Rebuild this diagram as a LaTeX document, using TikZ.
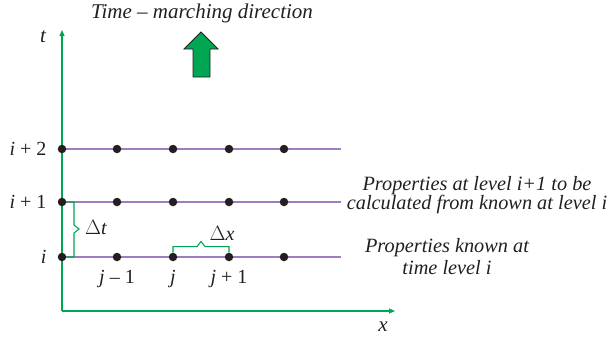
\documentclass[tikz,border=0pt]{standalone}
\usepackage{fontspec}
\setmainfont{Liberation Serif}
\usepackage{tikz}
\usetikzlibrary{arrows.meta,positioning}
\definecolor{axisgreen}{HTML}{00A651}
\definecolor{gridline}{HTML}{A07CC0}
\definecolor{ink}{HTML}{231F20}

\begin{document}
\begin{tikzpicture}[
  x=1pt,y=-1pt,
  font=\fontsize{20}{20}\selectfont,
  axis/.style={draw=axisgreen,line width=1.1pt,-{Triangle[length=6pt,width=5pt]}},
  level/.style={draw=gridline,line width=1.3pt},
  dot/.style={circle,fill=ink,inner sep=0pt,minimum size=8.5pt},
  brace/.style={draw=axisgreen,line width=1.1pt},
  lbl/.style={inner sep=1pt,text=ink},
  note/.style={inner sep=0pt,text=ink,font=\fontsize{20.3}{19}\selectfont\itshape,align=center},
]
\useasboundingbox (0,0) rectangle (613,341);

% axes
\coordinate (orig) at (62,311);
\coordinate (tend) at (62,30);
\coordinate (xend) at (395,311);
\draw[axis] (orig) -- (tend);
\draw[axis] (orig) -- (xend);
\node[lbl,font=\fontsize{21}{21}\selectfont\itshape] (tlab) at (43,37) {t};
\node[lbl,font=\fontsize{21}{21}\selectfont\itshape] (xlab) at (383,327) {x};

% time levels and grid points
\foreach \r/\y in {0/257,1/202,2/149}{
  \draw[level] (62,\y) -- (341,\y);
  \foreach \c/\x in {0/62,1/117,2/173,3/229,4/284}{
    \node[dot] (p\r\c) at (\x,\y) {};
  }
}

\node[lbl,left=10pt of p00] (li0) {\textit{i}};
\node[lbl,left=10pt of p10] (li1) {\textit{i} + 1};
\node[lbl,left=10pt of p20] (li2) {\textit{i} + 2};

\node[lbl] (lj0) at (117,279) {\textit{j} – 1};
\node[lbl] (lj1) at (173,279) {\textit{j}};
\node[lbl] (lj2) at (229,279) {\textit{j} + 1};

% step braces
\draw[brace] (p10) -- ++(12,0) -- ++(0,23) -- ++(5,4) -- ++(-5,4) -- ++(0,24) -- (p00);
\node[lbl] (dt) at (96,228) {$\Delta$\textit{t}};
\draw[brace] (p02.north) -- ++(0,-6) -- ++(24,0) -- ++(4,-5) -- ++(4,5) -- ++(24,0) -- (p03.north);
\node[lbl] (dx) at (222,233) {$\Delta$\textit{x}};

% marching direction
\node[lbl,font=\fontsize{21}{21}\selectfont\itshape] (title) at (202,13) {Time – marching direction};
\draw[ink,fill=axisgreen,line width=0.8pt]
  (193,77) -- (193,49) -- (184,49) -- (201,32) -- (218,49) -- (210,49) -- (210,77) -- cycle;

% notes
\node[note] (n1) at (477,195) {Properties at level i+1 to be\\calculated from known at level i};
\node[note] (n2) at (447,257) {Properties known at\\[3pt]time level i};
\end{tikzpicture}
\end{document}
